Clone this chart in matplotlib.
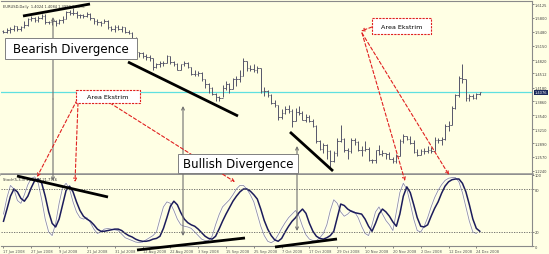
import numpy as np
import matplotlib.pyplot as plt
from matplotlib.transforms import blended_transform_factory

# EURUSD daily, 17 Jun 2008 .. 25 Dec 2008 (bar index = trading day)
high = [1.5530, 1.5560, 1.5580, 1.5630, 1.5620, 1.5620, 1.5720, 1.5800, 1.5840, 1.5820,
        1.5840, 1.5900, 1.5900, 1.5730, 1.5780, 1.5760, 1.5780, 1.5840, 1.5960, 1.5990,
        1.6040, 1.5960, 1.5900, 1.5900, 1.5950, 1.5920, 1.5810, 1.5770, 1.5740, 1.5770,
        1.5760, 1.5620, 1.5640, 1.5630, 1.5610, 1.5590, 1.5510, 1.5470, 1.5360, 1.5020,
        1.5010, 1.4960, 1.4940, 1.4880, 1.4760, 1.4790, 1.4800, 1.4950, 1.4920, 1.4790,
        1.4750, 1.4740, 1.4810, 1.4780, 1.4670, 1.4580, 1.4560, 1.4540, 1.4390, 1.4290,
        1.4200, 1.4060, 1.3980, 1.4230, 1.4340, 1.4290, 1.4400, 1.4460, 1.4580, 1.4860,
        1.4790, 1.4700, 1.4720, 1.4690, 1.4640, 1.4190, 1.4130, 1.4020, 1.3900, 1.3770,
        1.3680, 1.3760, 1.3770, 1.3690, 1.3700, 1.3750, 1.3640, 1.3560, 1.3550, 1.3460,
        1.3320, 1.2960, 1.2900, 1.2870, 1.2720, 1.2710, 1.3000, 1.3300, 1.3000, 1.2780,
        1.3000, 1.3000, 1.2930, 1.2830, 1.2940, 1.2790, 1.2530, 1.2740, 1.2850, 1.2740,
        1.2660, 1.2690, 1.2560, 1.2640, 1.2990, 1.3090, 1.3060, 1.3050, 1.2950, 1.2750,
        1.2760, 1.2780, 1.2830, 1.2800, 1.3020, 1.3000, 1.3040, 1.3340, 1.3400, 1.3750,
        1.4030, 1.4460, 1.4720, 1.4380, 1.4030, 1.4020, 1.4060, 1.4084]
low = [1.5440, 1.5440, 1.5460, 1.5500, 1.5500, 1.5490, 1.5560, 1.5610, 1.5720, 1.5700,
       1.5700, 1.5780, 1.5660, 1.5670, 1.5630, 1.5610, 1.5670, 1.5690, 1.5780, 1.5880,
       1.5860, 1.5800, 1.5800, 1.5800, 1.5830, 1.5760, 1.5650, 1.5640, 1.5620, 1.5680,
       1.5540, 1.5500, 1.5480, 1.5520, 1.5480, 1.5440, 1.5420, 1.5300, 1.4970, 1.4900,
       1.4860, 1.4830, 1.4790, 1.4590, 1.4640, 1.4670, 1.4680, 1.4750, 1.4720, 1.4690,
       1.4580, 1.4590, 1.4680, 1.4630, 1.4480, 1.4440, 1.4440, 1.4340, 1.4180, 1.4060,
       1.4000, 1.3880, 1.3880, 1.3950, 1.4130, 1.4050, 1.4140, 1.4210, 1.4300, 1.4440,
       1.4570, 1.4560, 1.4550, 1.4520, 1.4060, 1.3980, 1.3960, 1.3800, 1.3730, 1.3430,
       1.3460, 1.3560, 1.3600, 1.3260, 1.3400, 1.3550, 1.3420, 1.3380, 1.3370, 1.3260,
       1.2900, 1.2740, 1.2650, 1.2510, 1.2330, 1.2440, 1.2600, 1.2920, 1.2680, 1.2530,
       1.2650, 1.2850, 1.2700, 1.2600, 1.2700, 1.2470, 1.2420, 1.2420, 1.2620, 1.2600,
       1.2530, 1.2520, 1.2420, 1.2430, 1.2580, 1.2880, 1.2950, 1.2860, 1.2650, 1.2590,
       1.2620, 1.2640, 1.2650, 1.2670, 1.2700, 1.2880, 1.2850, 1.2970, 1.3170, 1.3320,
       1.3680, 1.3960, 1.4280, 1.3870, 1.3860, 1.3920, 1.3910, 1.3999]
close = [1.5480, 1.5530, 1.5540, 1.5610, 1.5540, 1.5580, 1.5640, 1.5770, 1.5790, 1.5750,
         1.5800, 1.5850, 1.5700, 1.5700, 1.5720, 1.5690, 1.5750, 1.5780, 1.5940, 1.5920,
         1.5920, 1.5860, 1.5860, 1.5840, 1.5900, 1.5800, 1.5730, 1.5700, 1.5690, 1.5740,
         1.5580, 1.5540, 1.5590, 1.5550, 1.5580, 1.5470, 1.5440, 1.5340, 1.5000, 1.4990,
         1.4920, 1.4890, 1.4860, 1.4660, 1.4720, 1.4750, 1.4760, 1.4920, 1.4770, 1.4720,
         1.4600, 1.4720, 1.4750, 1.4670, 1.4500, 1.4500, 1.4520, 1.4370, 1.4270, 1.4180,
         1.4030, 1.3950, 1.3940, 1.4180, 1.4260, 1.4150, 1.4370, 1.4370, 1.4460, 1.4800,
         1.4630, 1.4620, 1.4600, 1.4630, 1.4100, 1.4090, 1.4000, 1.3820, 1.3770, 1.3500,
         1.3600, 1.3680, 1.3640, 1.3410, 1.3620, 1.3580, 1.3430, 1.3500, 1.3400, 1.3280,
         1.2930, 1.2750, 1.2850, 1.2700, 1.2480, 1.2650, 1.2940, 1.2990, 1.2730, 1.2700,
         1.2960, 1.2920, 1.2740, 1.2720, 1.2760, 1.2500, 1.2490, 1.2720, 1.2640, 1.2650,
         1.2640, 1.2530, 1.2470, 1.2600, 1.2930, 1.3050, 1.2990, 1.2900, 1.2690, 1.2620,
         1.2700, 1.2710, 1.2740, 1.2710, 1.2950, 1.2950, 1.2990, 1.3290, 1.3320, 1.3700,
         1.4000, 1.4400, 1.4380, 1.3930, 1.3980, 1.3930, 1.4020, 1.4076]
first_open = 1.5500
last_price = 1.4076

stoch_d = [35, 52, 70, 80, 76, 67, 63, 70, 82, 92,
           94, 88, 70, 48, 32, 27, 38, 58, 78, 84,
           76, 62, 50, 42, 38, 35, 30, 24, 21, 21,
           22, 23, 24, 24, 22, 18, 15, 13, 10, 8,
           7, 7, 8, 10, 11, 14, 25, 40, 56, 63,
           58, 47, 38, 33, 30, 28, 24, 19, 14, 11,
           10, 14, 24, 35, 45, 54, 63, 70, 76, 80,
           80, 77, 72, 66, 52, 36, 24, 15, 9, 7,
           11, 20, 28, 35, 40, 47, 52, 46, 32, 21,
           14, 11, 10, 12, 15, 21, 40, 59, 57, 52,
           49, 47, 46, 45, 38, 28, 21, 32, 45, 52,
           48, 42, 34, 28, 45, 70, 83, 75, 58, 40,
           28, 27, 30, 42, 53, 62, 74, 84, 90, 93,
           94, 94, 88, 76, 58, 38, 25, 21]
stoch_k = [45, 68, 85, 80, 64, 60, 72, 86, 95, 97,
           88, 65, 38, 20, 15, 32, 60, 82, 88, 80,
           62, 48, 40, 38, 40, 33, 24, 18, 20, 24,
           25, 24, 23, 22, 17, 12, 10, 8, 6, 5,
           6, 9, 12, 15, 20, 38, 55, 62, 60, 50,
           38, 30, 28, 27, 25, 20, 15, 10, 8, 8,
           14, 30, 44, 55, 60, 65, 72, 80, 85, 85,
           80, 72, 62, 45, 28, 15, 7, 5, 8, 16,
           25, 33, 40, 45, 50, 42, 28, 16, 10, 8,
           8, 12, 18, 30, 50, 65, 60, 48, 42, 45,
           50, 48, 40, 28, 18, 15, 30, 48, 55, 45,
           36, 30, 22, 48, 75, 88, 80, 60, 38, 22,
           20, 28, 40, 55, 68, 78, 86, 92, 95, 96,
           96, 90, 75, 55, 35, 20, 18]

tick_idx = [0, 8, 16, 24, 32, 40, 48, 56, 64, 72, 80, 88, 96, 104, 112, 120, 128, 136]
tick_lbl = ["17 Jun 2008", "27 Jun 2008", "9 Jul 2008", "21 Jul 2008", "31 Jul 2008",
            "12 Aug 2008", "22 Aug 2008", "3 Sep 2008", "15 Sep 2008", "25 Sep 2008",
            "7 Oct 2008", "17 Oct 2008", "29 Oct 2008", "10 Nov 2008", "20 Nov 2008",
            "2 Dec 2008", "12 Dec 2008", "24 Dec 2008"]
price_ticks = [1.6125, 1.5800, 1.5480, 1.5150, 1.4820, 1.4512, 1.4180, 1.3860,
               1.3540, 1.3210, 1.2890, 1.2570, 1.2240]

BG = "#FFFFE4"
BAR = "#55556a"
GRID = "#8a8a8a"
RED = "#e02020"
SMALL = 2.6

W, H = 549, 255
fig = plt.figure(figsize=(W / 100, H / 100), dpi=100, facecolor=BG)

x_left, x_right = 0.5, 532
def fx(px):
    return px / W
def fy(py):
    return 1 - py / H

ax = fig.add_axes([fx(x_left), fy(175), fx(x_right - x_left), fy(2) - fy(175)])
ax2 = fig.add_axes([fx(x_left), fy(247.3), fx(x_right - x_left), fy(175.7) - fy(247.3)])

n = len(close)
idx = np.arange(n)
opens = [first_open] + close[:-1]
xl = (-3 / 3.48, (532 - 3) / 3.48)

for a in (ax, ax2):
    a.set_facecolor(BG)
    a.set_xlim(*xl)
    for s in a.spines.values():
        s.set_color(GRID)
        s.set_linewidth(0.8)
    a.spines["left"].set_visible(False)
    a.yaxis.tick_right()
    a.tick_params(axis="y", labelsize=SMALL, colors="#555555", length=1.2, width=0.5, pad=0.8)
    a.tick_params(axis="x", labelsize=SMALL, colors="#555555", length=1.2, width=0.5, pad=0.6)
    for lbl in a.get_yticklabels():
        lbl.set_color("#444444")

ax.spines["bottom"].set_linewidth(1.8)
ax.spines["bottom"].set_color("#909090")
ax2.spines["top"].set_visible(False)

# price bars
ax.vlines(idx, low, high, color=BAR, lw=0.7)
ax.hlines(opens, idx - 0.45, idx, color=BAR, lw=0.6)
ax.hlines(close, idx, idx + 0.45, color=BAR, lw=0.6)
ax.axhline(last_price, color="#5fe0e0", lw=0.9, zorder=0)
ax.set_ylim(1.2170, 1.6195)
ax.set_yticks(price_ticks)
ax.set_yticklabels(["%.4f" % p for p in price_ticks])
ax.set_xticks([])
tr = blended_transform_factory(ax.transAxes, ax.transData)
ax.text(1.005, last_price, "%.4f" % last_price, transform=tr, fontsize=SMALL, color="white",
        va="center", ha="left",
        bbox=dict(boxstyle="square,pad=0.15", fc="#1c2a5c", ec="none"))
ax.text(0.005, 0.985, "EURUSD,Daily  1.4024 1.4084 1.3999 1.4076", transform=ax.transAxes,
        fontsize=SMALL, color="#333333", va="top")

# stochastic pane
kx = np.arange(len(stoch_k))
dx = np.arange(len(stoch_d))
ax2.plot(kx, stoch_k, color="white", lw=1.6, solid_joinstyle="round")
ax2.plot(kx, stoch_k, color="#9090a0", lw=0.6)
ax2.plot(dx, stoch_d, color="#1c1c5c", lw=1.1)
ax2.axhline(80, color="#606060", lw=0.6, ls=(0, (1.5, 1.5)))
ax2.axhline(20, color="#606060", lw=0.6, ls=(0, (1.5, 1.5)))
ax2.set_ylim(0, 100)
ax2.set_yticks([100, 80, 20, 0])
ax2.set_yticklabels(["100", "80", "20", "0"])
ax2.set_xticks(tick_idx)
ax2.set_xticklabels(tick_lbl, ha="left")
ax2.text(0.005, 0.97, "Stoch(5,3,3) 24.1997 21.7716", transform=ax2.transAxes,
         fontsize=SMALL, color="#333333", va="top")

# annotation overlay in pixel space
ov = fig.add_axes([0, 0, 1, 1], zorder=5)
ov.set_xlim(0, W)
ov.set_ylim(H, 0)
ov.axis("off")
ov.patch.set_alpha(0)

def arrow(p0, p1, color, ls="-", lw=0.8, head=True):
    ov.annotate("", xy=p1, xytext=p0,
                arrowprops=dict(arrowstyle="->" if head else "-", color=color, lw=lw,
                                linestyle=ls, shrinkA=0, shrinkB=0,
                                mutation_scale=5))

# trend lines
for (a, b) in [((23, 17), (90, 5)), ((128, 63), (238, 117)), ((290, 133), (333, 172)),
               ((17, 177), (108, 198)), ((137, 251), (245, 239)), ((275, 248), (337, 240))]:
    ov.plot([a[0], b[0]], [a[1], b[1]], color="black", lw=2.0, solid_capstyle="butt")

# gray divergence markers
arrow((53, 100), (53, 18), "#707070")
arrow((53, 100), (53, 182), "#707070")
arrow((183, 160), (183, 237), "#707070")
arrow((183, 160), (183, 107), "#707070")
arrow((297, 160), (297, 232), "#707070")
arrow((297, 160), (297, 147), "#707070")

def label_box(x0, y0, x1, y1, txt, size, ec, ls="-", lw=0.7):
    ov.add_patch(plt.Rectangle((x0, y0), x1 - x0, y1 - y0, fc="white", ec=ec, lw=lw,
                               linestyle=ls, zorder=6))
    ov.text((x0 + x1) / 2, (y0 + y1) / 2 + 0.5, txt, fontsize=size, ha="center",
            va="center", color="black", zorder=7)

label_box(5, 39, 137, 60, "Bearish Divergence", 8.5, "#808080")
label_box(178, 155, 298, 174, "Bullish Divergence", 8.5, "#808080")

# red "Area Ekstrim" call-outs
label_box(76, 91, 140, 104, "Area Ekstrim", 4.6, RED, ls=(0, (2, 1)), lw=0.8)
label_box(372, 19, 431, 35, "Area Ekstrim", 4.6, RED, ls=(0, (2, 1)), lw=0.8)
arrow((77, 101), (37, 178), RED, ls=(0, (3, 2)))
arrow((78, 104), (75, 183), RED, ls=(0, (3, 2)))
arrow((110, 104), (235, 183), RED, ls=(0, (3, 2)))
arrow((372, 28), (361, 32), RED, ls=(0, (3, 2)))
arrow((362, 34), (405, 182), RED, ls=(0, (3, 2)))
arrow((362, 34), (449, 176), RED, ls=(0, (3, 2)))

fig.savefig("out.png", dpi=100, facecolor=BG)
